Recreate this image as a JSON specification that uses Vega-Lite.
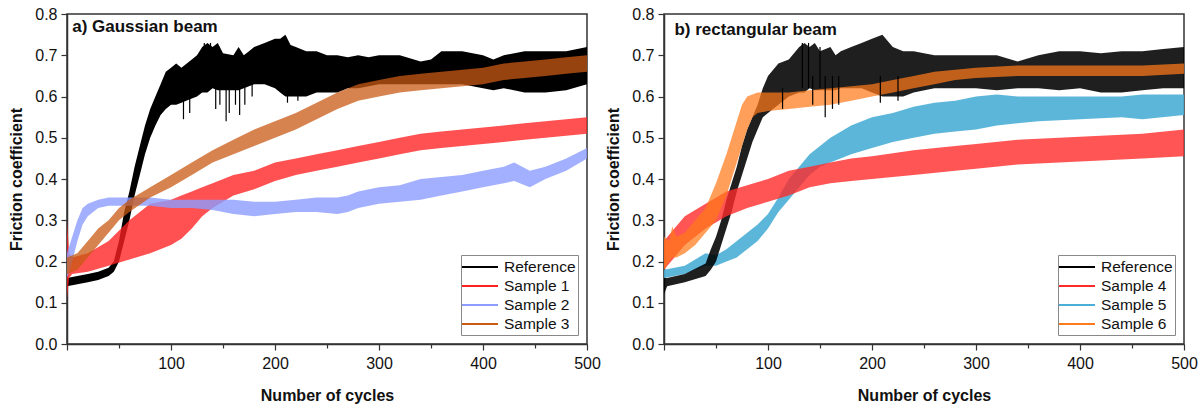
{
  "$schema": "https://vega.github.io/schema/vega-lite/v6.json",
  "padding": {"left": 8, "top": 5, "right": 4, "bottom": 4},
  "spacing": 3,
  "config": {
    "font": "Liberation Sans",
    "view": {"stroke": "#333333", "strokeWidth": 1.5},
    "axis": {
      "domainColor": "#333333", "domainWidth": 1.5, "tickColor": "#333333", "tickWidth": 1.2,
      "labelFont": "Liberation Sans", "labelFontSize": 16, "labelColor": "#111111",
      "titleFont": "Liberation Sans", "titleFontSize": 16, "titleFontWeight": "bold", "titleColor": "#111111",
      "grid": false, "labelPadding": 5
    },
    "legend": {
      "orient": "bottom-right", "offset": 9, "strokeColor": "#888888", "fillColor": "white",
      "padding": 2, "title": null, "labelFont": "Liberation Sans", "labelFontSize": 15.5, "labelColor": "#111111",
      "symbolType": "M-1.8,-0.1H1.8V0.1H-1.8Z", "symbolSize": 400, "symbolStrokeWidth": 0, "symbolOffset": 7, "labelOffset": 14, "rowPadding": 0, "symbolOpacity": 1
    }
  },
  "datasets": {
    "a": [
      {"s": "Reference", "c": 0, "lo": 0.14, "hi": 0.16},
      {"s": "Reference", "c": 10, "lo": 0.145, "hi": 0.165},
      {"s": "Reference", "c": 20, "lo": 0.15, "hi": 0.17},
      {"s": "Reference", "c": 30, "lo": 0.155, "hi": 0.175},
      {"s": "Reference", "c": 40, "lo": 0.165, "hi": 0.185},
      {"s": "Reference", "c": 45, "lo": 0.175, "hi": 0.2},
      {"s": "Reference", "c": 50, "lo": 0.2, "hi": 0.25},
      {"s": "Reference", "c": 55, "lo": 0.25, "hi": 0.32},
      {"s": "Reference", "c": 60, "lo": 0.3, "hi": 0.37},
      {"s": "Reference", "c": 65, "lo": 0.36, "hi": 0.43},
      {"s": "Reference", "c": 70, "lo": 0.41, "hi": 0.48},
      {"s": "Reference", "c": 75, "lo": 0.46, "hi": 0.53},
      {"s": "Reference", "c": 80, "lo": 0.5, "hi": 0.57},
      {"s": "Reference", "c": 85, "lo": 0.53, "hi": 0.6},
      {"s": "Reference", "c": 90, "lo": 0.555, "hi": 0.63},
      {"s": "Reference", "c": 95, "lo": 0.57, "hi": 0.66},
      {"s": "Reference", "c": 100, "lo": 0.58, "hi": 0.67},
      {"s": "Reference", "c": 105, "lo": 0.58, "hi": 0.68},
      {"s": "Reference", "c": 110, "lo": 0.585, "hi": 0.67},
      {"s": "Reference", "c": 120, "lo": 0.595, "hi": 0.69},
      {"s": "Reference", "c": 125, "lo": 0.6, "hi": 0.7},
      {"s": "Reference", "c": 130, "lo": 0.61, "hi": 0.72},
      {"s": "Reference", "c": 135, "lo": 0.61, "hi": 0.73},
      {"s": "Reference", "c": 140, "lo": 0.62, "hi": 0.72},
      {"s": "Reference", "c": 145, "lo": 0.615, "hi": 0.73},
      {"s": "Reference", "c": 150, "lo": 0.615, "hi": 0.705},
      {"s": "Reference", "c": 160, "lo": 0.615, "hi": 0.7},
      {"s": "Reference", "c": 165, "lo": 0.615, "hi": 0.72},
      {"s": "Reference", "c": 170, "lo": 0.62, "hi": 0.7},
      {"s": "Reference", "c": 175, "lo": 0.625, "hi": 0.71},
      {"s": "Reference", "c": 180, "lo": 0.63, "hi": 0.72},
      {"s": "Reference", "c": 190, "lo": 0.63, "hi": 0.73},
      {"s": "Reference", "c": 200, "lo": 0.62, "hi": 0.74},
      {"s": "Reference", "c": 205, "lo": 0.61, "hi": 0.74},
      {"s": "Reference", "c": 210, "lo": 0.6, "hi": 0.75},
      {"s": "Reference", "c": 215, "lo": 0.6, "hi": 0.725},
      {"s": "Reference", "c": 220, "lo": 0.6, "hi": 0.72},
      {"s": "Reference", "c": 230, "lo": 0.6, "hi": 0.71},
      {"s": "Reference", "c": 240, "lo": 0.61, "hi": 0.71},
      {"s": "Reference", "c": 250, "lo": 0.61, "hi": 0.7},
      {"s": "Reference", "c": 260, "lo": 0.61, "hi": 0.7},
      {"s": "Reference", "c": 270, "lo": 0.62, "hi": 0.695},
      {"s": "Reference", "c": 280, "lo": 0.62, "hi": 0.7},
      {"s": "Reference", "c": 290, "lo": 0.625, "hi": 0.695},
      {"s": "Reference", "c": 300, "lo": 0.63, "hi": 0.7},
      {"s": "Reference", "c": 320, "lo": 0.63, "hi": 0.7},
      {"s": "Reference", "c": 340, "lo": 0.63, "hi": 0.685},
      {"s": "Reference", "c": 350, "lo": 0.63, "hi": 0.69},
      {"s": "Reference", "c": 360, "lo": 0.63, "hi": 0.71},
      {"s": "Reference", "c": 380, "lo": 0.63, "hi": 0.71},
      {"s": "Reference", "c": 400, "lo": 0.62, "hi": 0.7},
      {"s": "Reference", "c": 410, "lo": 0.615, "hi": 0.69},
      {"s": "Reference", "c": 420, "lo": 0.62, "hi": 0.7},
      {"s": "Reference", "c": 440, "lo": 0.61, "hi": 0.71},
      {"s": "Reference", "c": 460, "lo": 0.61, "hi": 0.71},
      {"s": "Reference", "c": 480, "lo": 0.615, "hi": 0.71},
      {"s": "Reference", "c": 500, "lo": 0.63, "hi": 0.72},

      {"s": "Sample 1", "c": 0, "lo": 0.11, "hi": 0.3},
      {"s": "Sample 1", "c": 2, "lo": 0.16, "hi": 0.22},
      {"s": "Sample 1", "c": 5, "lo": 0.17, "hi": 0.21},
      {"s": "Sample 1", "c": 20, "lo": 0.175, "hi": 0.22},
      {"s": "Sample 1", "c": 40, "lo": 0.19, "hi": 0.25},
      {"s": "Sample 1", "c": 60, "lo": 0.205, "hi": 0.3},
      {"s": "Sample 1", "c": 80, "lo": 0.22, "hi": 0.34},
      {"s": "Sample 1", "c": 100, "lo": 0.24, "hi": 0.35},
      {"s": "Sample 1", "c": 110, "lo": 0.255, "hi": 0.36},
      {"s": "Sample 1", "c": 120, "lo": 0.28, "hi": 0.37},
      {"s": "Sample 1", "c": 130, "lo": 0.31, "hi": 0.38},
      {"s": "Sample 1", "c": 140, "lo": 0.33, "hi": 0.39},
      {"s": "Sample 1", "c": 160, "lo": 0.36, "hi": 0.41},
      {"s": "Sample 1", "c": 180, "lo": 0.375, "hi": 0.42},
      {"s": "Sample 1", "c": 200, "lo": 0.395, "hi": 0.44},
      {"s": "Sample 1", "c": 220, "lo": 0.41, "hi": 0.45},
      {"s": "Sample 1", "c": 240, "lo": 0.42, "hi": 0.46},
      {"s": "Sample 1", "c": 260, "lo": 0.43, "hi": 0.47},
      {"s": "Sample 1", "c": 280, "lo": 0.44, "hi": 0.48},
      {"s": "Sample 1", "c": 300, "lo": 0.45, "hi": 0.49},
      {"s": "Sample 1", "c": 320, "lo": 0.46, "hi": 0.5},
      {"s": "Sample 1", "c": 340, "lo": 0.47, "hi": 0.51},
      {"s": "Sample 1", "c": 360, "lo": 0.475, "hi": 0.515},
      {"s": "Sample 1", "c": 380, "lo": 0.48, "hi": 0.52},
      {"s": "Sample 1", "c": 400, "lo": 0.485, "hi": 0.525},
      {"s": "Sample 1", "c": 420, "lo": 0.49, "hi": 0.53},
      {"s": "Sample 1", "c": 440, "lo": 0.495, "hi": 0.535},
      {"s": "Sample 1", "c": 460, "lo": 0.5, "hi": 0.54},
      {"s": "Sample 1", "c": 480, "lo": 0.505, "hi": 0.545},
      {"s": "Sample 1", "c": 500, "lo": 0.51, "hi": 0.55},

      {"s": "Sample 2", "c": 0, "lo": 0.16, "hi": 0.22},
      {"s": "Sample 2", "c": 5, "lo": 0.2, "hi": 0.26},
      {"s": "Sample 2", "c": 10, "lo": 0.25, "hi": 0.3},
      {"s": "Sample 2", "c": 15, "lo": 0.29, "hi": 0.33},
      {"s": "Sample 2", "c": 20, "lo": 0.31, "hi": 0.34},
      {"s": "Sample 2", "c": 30, "lo": 0.33, "hi": 0.35},
      {"s": "Sample 2", "c": 40, "lo": 0.335, "hi": 0.355},
      {"s": "Sample 2", "c": 60, "lo": 0.335, "hi": 0.355},
      {"s": "Sample 2", "c": 80, "lo": 0.335, "hi": 0.355},
      {"s": "Sample 2", "c": 100, "lo": 0.33, "hi": 0.35},
      {"s": "Sample 2", "c": 120, "lo": 0.33, "hi": 0.35},
      {"s": "Sample 2", "c": 140, "lo": 0.325, "hi": 0.35},
      {"s": "Sample 2", "c": 160, "lo": 0.315, "hi": 0.35},
      {"s": "Sample 2", "c": 180, "lo": 0.31, "hi": 0.345},
      {"s": "Sample 2", "c": 200, "lo": 0.315, "hi": 0.345},
      {"s": "Sample 2", "c": 220, "lo": 0.32, "hi": 0.35},
      {"s": "Sample 2", "c": 240, "lo": 0.32, "hi": 0.355},
      {"s": "Sample 2", "c": 260, "lo": 0.315, "hi": 0.355},
      {"s": "Sample 2", "c": 270, "lo": 0.32, "hi": 0.36},
      {"s": "Sample 2", "c": 280, "lo": 0.33, "hi": 0.37},
      {"s": "Sample 2", "c": 300, "lo": 0.34, "hi": 0.38},
      {"s": "Sample 2", "c": 320, "lo": 0.345, "hi": 0.385},
      {"s": "Sample 2", "c": 340, "lo": 0.35, "hi": 0.4},
      {"s": "Sample 2", "c": 360, "lo": 0.36, "hi": 0.405},
      {"s": "Sample 2", "c": 380, "lo": 0.37, "hi": 0.41},
      {"s": "Sample 2", "c": 400, "lo": 0.38, "hi": 0.42},
      {"s": "Sample 2", "c": 420, "lo": 0.39, "hi": 0.43},
      {"s": "Sample 2", "c": 430, "lo": 0.395, "hi": 0.44},
      {"s": "Sample 2", "c": 445, "lo": 0.38, "hi": 0.42},
      {"s": "Sample 2", "c": 460, "lo": 0.4, "hi": 0.43},
      {"s": "Sample 2", "c": 480, "lo": 0.42, "hi": 0.45},
      {"s": "Sample 2", "c": 500, "lo": 0.45, "hi": 0.475},

      {"s": "Sample 3", "c": 0, "lo": 0.17, "hi": 0.21},
      {"s": "Sample 3", "c": 10, "lo": 0.18, "hi": 0.22},
      {"s": "Sample 3", "c": 20, "lo": 0.21, "hi": 0.25},
      {"s": "Sample 3", "c": 30, "lo": 0.24, "hi": 0.28},
      {"s": "Sample 3", "c": 40, "lo": 0.27, "hi": 0.3},
      {"s": "Sample 3", "c": 50, "lo": 0.3, "hi": 0.33},
      {"s": "Sample 3", "c": 60, "lo": 0.32, "hi": 0.35},
      {"s": "Sample 3", "c": 80, "lo": 0.355, "hi": 0.38},
      {"s": "Sample 3", "c": 100, "lo": 0.38, "hi": 0.41},
      {"s": "Sample 3", "c": 120, "lo": 0.41, "hi": 0.44},
      {"s": "Sample 3", "c": 140, "lo": 0.44, "hi": 0.47},
      {"s": "Sample 3", "c": 160, "lo": 0.46, "hi": 0.495},
      {"s": "Sample 3", "c": 180, "lo": 0.48, "hi": 0.52},
      {"s": "Sample 3", "c": 200, "lo": 0.5, "hi": 0.54},
      {"s": "Sample 3", "c": 220, "lo": 0.52, "hi": 0.56},
      {"s": "Sample 3", "c": 240, "lo": 0.545, "hi": 0.585},
      {"s": "Sample 3", "c": 260, "lo": 0.57, "hi": 0.61},
      {"s": "Sample 3", "c": 280, "lo": 0.59, "hi": 0.63},
      {"s": "Sample 3", "c": 300, "lo": 0.6, "hi": 0.64},
      {"s": "Sample 3", "c": 320, "lo": 0.61, "hi": 0.65},
      {"s": "Sample 3", "c": 340, "lo": 0.615, "hi": 0.655},
      {"s": "Sample 3", "c": 360, "lo": 0.62, "hi": 0.66},
      {"s": "Sample 3", "c": 380, "lo": 0.625, "hi": 0.665},
      {"s": "Sample 3", "c": 400, "lo": 0.63, "hi": 0.67},
      {"s": "Sample 3", "c": 420, "lo": 0.64, "hi": 0.68},
      {"s": "Sample 3", "c": 440, "lo": 0.645, "hi": 0.685},
      {"s": "Sample 3", "c": 460, "lo": 0.65, "hi": 0.69},
      {"s": "Sample 3", "c": 480, "lo": 0.655, "hi": 0.695},
      {"s": "Sample 3", "c": 500, "lo": 0.66, "hi": 0.7}
    ],
    "aspikes": [
      {"c": 112, "lo": 0.545, "hi": 0.62},
      {"c": 118, "lo": 0.56, "hi": 0.63},
      {"c": 132, "lo": 0.62, "hi": 0.73},
      {"c": 138, "lo": 0.62, "hi": 0.73},
      {"c": 143, "lo": 0.57, "hi": 0.65},
      {"c": 147, "lo": 0.58, "hi": 0.65},
      {"c": 153, "lo": 0.54, "hi": 0.65},
      {"c": 156, "lo": 0.56, "hi": 0.65},
      {"c": 162, "lo": 0.58, "hi": 0.65},
      {"c": 166, "lo": 0.555, "hi": 0.65},
      {"c": 171, "lo": 0.58, "hi": 0.65},
      {"c": 178, "lo": 0.6, "hi": 0.66},
      {"c": 212, "lo": 0.585, "hi": 0.65},
      {"c": 222, "lo": 0.59, "hi": 0.65}
    ],
    "b": [
      {"s": "Reference", "c": 0, "lo": 0.12, "hi": 0.16},
      {"s": "Reference", "c": 3, "lo": 0.14, "hi": 0.16},
      {"s": "Reference", "c": 20, "lo": 0.15, "hi": 0.17},
      {"s": "Reference", "c": 40, "lo": 0.165, "hi": 0.195},
      {"s": "Reference", "c": 45, "lo": 0.18, "hi": 0.23},
      {"s": "Reference", "c": 50, "lo": 0.2, "hi": 0.26},
      {"s": "Reference", "c": 55, "lo": 0.24, "hi": 0.3},
      {"s": "Reference", "c": 60, "lo": 0.28, "hi": 0.35},
      {"s": "Reference", "c": 65, "lo": 0.32, "hi": 0.39},
      {"s": "Reference", "c": 70, "lo": 0.37, "hi": 0.43},
      {"s": "Reference", "c": 75, "lo": 0.41, "hi": 0.48},
      {"s": "Reference", "c": 80, "lo": 0.45, "hi": 0.52},
      {"s": "Reference", "c": 85, "lo": 0.49, "hi": 0.55},
      {"s": "Reference", "c": 90, "lo": 0.52, "hi": 0.58},
      {"s": "Reference", "c": 95, "lo": 0.55, "hi": 0.62},
      {"s": "Reference", "c": 100, "lo": 0.56, "hi": 0.65},
      {"s": "Reference", "c": 110, "lo": 0.58, "hi": 0.68},
      {"s": "Reference", "c": 120, "lo": 0.6, "hi": 0.69},
      {"s": "Reference", "c": 130, "lo": 0.61, "hi": 0.72},
      {"s": "Reference", "c": 135, "lo": 0.61, "hi": 0.73},
      {"s": "Reference", "c": 140, "lo": 0.62, "hi": 0.72},
      {"s": "Reference", "c": 145, "lo": 0.615, "hi": 0.73},
      {"s": "Reference", "c": 150, "lo": 0.615, "hi": 0.71},
      {"s": "Reference", "c": 160, "lo": 0.615, "hi": 0.72},
      {"s": "Reference", "c": 165, "lo": 0.615, "hi": 0.7},
      {"s": "Reference", "c": 170, "lo": 0.62, "hi": 0.71},
      {"s": "Reference", "c": 180, "lo": 0.62, "hi": 0.72},
      {"s": "Reference", "c": 190, "lo": 0.62, "hi": 0.73},
      {"s": "Reference", "c": 200, "lo": 0.61, "hi": 0.74},
      {"s": "Reference", "c": 210, "lo": 0.6, "hi": 0.75},
      {"s": "Reference", "c": 220, "lo": 0.6, "hi": 0.72},
      {"s": "Reference", "c": 230, "lo": 0.6, "hi": 0.71},
      {"s": "Reference", "c": 240, "lo": 0.61, "hi": 0.71},
      {"s": "Reference", "c": 260, "lo": 0.62, "hi": 0.7},
      {"s": "Reference", "c": 280, "lo": 0.62, "hi": 0.7},
      {"s": "Reference", "c": 300, "lo": 0.62, "hi": 0.7},
      {"s": "Reference", "c": 320, "lo": 0.615, "hi": 0.7},
      {"s": "Reference", "c": 340, "lo": 0.62, "hi": 0.685},
      {"s": "Reference", "c": 360, "lo": 0.62, "hi": 0.7},
      {"s": "Reference", "c": 380, "lo": 0.615, "hi": 0.71},
      {"s": "Reference", "c": 400, "lo": 0.62, "hi": 0.71},
      {"s": "Reference", "c": 420, "lo": 0.61, "hi": 0.705},
      {"s": "Reference", "c": 440, "lo": 0.61, "hi": 0.71},
      {"s": "Reference", "c": 460, "lo": 0.615, "hi": 0.71},
      {"s": "Reference", "c": 480, "lo": 0.62, "hi": 0.715},
      {"s": "Reference", "c": 500, "lo": 0.62, "hi": 0.72},

      {"s": "Sample 4", "c": 0, "lo": 0.18, "hi": 0.25},
      {"s": "Sample 4", "c": 10, "lo": 0.21, "hi": 0.28},
      {"s": "Sample 4", "c": 20, "lo": 0.24, "hi": 0.31},
      {"s": "Sample 4", "c": 40, "lo": 0.28, "hi": 0.34},
      {"s": "Sample 4", "c": 60, "lo": 0.31, "hi": 0.37},
      {"s": "Sample 4", "c": 80, "lo": 0.33, "hi": 0.385},
      {"s": "Sample 4", "c": 100, "lo": 0.345, "hi": 0.4},
      {"s": "Sample 4", "c": 120, "lo": 0.36, "hi": 0.42},
      {"s": "Sample 4", "c": 140, "lo": 0.38, "hi": 0.43},
      {"s": "Sample 4", "c": 160, "lo": 0.39, "hi": 0.44},
      {"s": "Sample 4", "c": 180, "lo": 0.395, "hi": 0.45},
      {"s": "Sample 4", "c": 200, "lo": 0.4, "hi": 0.455},
      {"s": "Sample 4", "c": 240, "lo": 0.41, "hi": 0.47},
      {"s": "Sample 4", "c": 280, "lo": 0.42, "hi": 0.48},
      {"s": "Sample 4", "c": 300, "lo": 0.425, "hi": 0.485},
      {"s": "Sample 4", "c": 340, "lo": 0.435, "hi": 0.495},
      {"s": "Sample 4", "c": 380, "lo": 0.44, "hi": 0.5},
      {"s": "Sample 4", "c": 420, "lo": 0.445, "hi": 0.505},
      {"s": "Sample 4", "c": 460, "lo": 0.45, "hi": 0.51},
      {"s": "Sample 4", "c": 500, "lo": 0.455, "hi": 0.52},

      {"s": "Sample 5", "c": 0, "lo": 0.16, "hi": 0.18},
      {"s": "Sample 5", "c": 20, "lo": 0.17, "hi": 0.19},
      {"s": "Sample 5", "c": 40, "lo": 0.19, "hi": 0.22},
      {"s": "Sample 5", "c": 50, "lo": 0.19, "hi": 0.215},
      {"s": "Sample 5", "c": 60, "lo": 0.2, "hi": 0.23},
      {"s": "Sample 5", "c": 70, "lo": 0.21, "hi": 0.25},
      {"s": "Sample 5", "c": 80, "lo": 0.23, "hi": 0.27},
      {"s": "Sample 5", "c": 90, "lo": 0.25, "hi": 0.29},
      {"s": "Sample 5", "c": 100, "lo": 0.28, "hi": 0.315},
      {"s": "Sample 5", "c": 110, "lo": 0.32, "hi": 0.355},
      {"s": "Sample 5", "c": 120, "lo": 0.35, "hi": 0.4},
      {"s": "Sample 5", "c": 130, "lo": 0.38, "hi": 0.43},
      {"s": "Sample 5", "c": 140, "lo": 0.41, "hi": 0.46},
      {"s": "Sample 5", "c": 150, "lo": 0.43, "hi": 0.48},
      {"s": "Sample 5", "c": 160, "lo": 0.44, "hi": 0.5},
      {"s": "Sample 5", "c": 180, "lo": 0.46, "hi": 0.53},
      {"s": "Sample 5", "c": 200, "lo": 0.475, "hi": 0.55},
      {"s": "Sample 5", "c": 220, "lo": 0.49, "hi": 0.56},
      {"s": "Sample 5", "c": 240, "lo": 0.5, "hi": 0.575},
      {"s": "Sample 5", "c": 260, "lo": 0.51, "hi": 0.585},
      {"s": "Sample 5", "c": 280, "lo": 0.515, "hi": 0.59},
      {"s": "Sample 5", "c": 300, "lo": 0.52, "hi": 0.6},
      {"s": "Sample 5", "c": 320, "lo": 0.53, "hi": 0.605},
      {"s": "Sample 5", "c": 340, "lo": 0.535, "hi": 0.6},
      {"s": "Sample 5", "c": 360, "lo": 0.54, "hi": 0.6},
      {"s": "Sample 5", "c": 400, "lo": 0.545, "hi": 0.6},
      {"s": "Sample 5", "c": 440, "lo": 0.55, "hi": 0.6},
      {"s": "Sample 5", "c": 460, "lo": 0.545, "hi": 0.605},
      {"s": "Sample 5", "c": 500, "lo": 0.555, "hi": 0.605},

      {"s": "Sample 6", "c": 0, "lo": 0.18, "hi": 0.26},
      {"s": "Sample 6", "c": 5, "lo": 0.2, "hi": 0.25},
      {"s": "Sample 6", "c": 8, "lo": 0.21, "hi": 0.285},
      {"s": "Sample 6", "c": 12, "lo": 0.21, "hi": 0.26},
      {"s": "Sample 6", "c": 20, "lo": 0.22, "hi": 0.27},
      {"s": "Sample 6", "c": 30, "lo": 0.24, "hi": 0.3},
      {"s": "Sample 6", "c": 40, "lo": 0.27, "hi": 0.33},
      {"s": "Sample 6", "c": 50, "lo": 0.3, "hi": 0.39},
      {"s": "Sample 6", "c": 60, "lo": 0.36, "hi": 0.46},
      {"s": "Sample 6", "c": 65, "lo": 0.4, "hi": 0.5},
      {"s": "Sample 6", "c": 70, "lo": 0.44, "hi": 0.54},
      {"s": "Sample 6", "c": 75, "lo": 0.48, "hi": 0.58},
      {"s": "Sample 6", "c": 80, "lo": 0.52, "hi": 0.6},
      {"s": "Sample 6", "c": 85, "lo": 0.55, "hi": 0.605},
      {"s": "Sample 6", "c": 90, "lo": 0.56, "hi": 0.61},
      {"s": "Sample 6", "c": 100, "lo": 0.565, "hi": 0.61},
      {"s": "Sample 6", "c": 120, "lo": 0.57, "hi": 0.61},
      {"s": "Sample 6", "c": 140, "lo": 0.575, "hi": 0.615},
      {"s": "Sample 6", "c": 160, "lo": 0.58, "hi": 0.62},
      {"s": "Sample 6", "c": 180, "lo": 0.59, "hi": 0.625},
      {"s": "Sample 6", "c": 200, "lo": 0.6, "hi": 0.63},
      {"s": "Sample 6", "c": 220, "lo": 0.61, "hi": 0.64},
      {"s": "Sample 6", "c": 240, "lo": 0.62, "hi": 0.65},
      {"s": "Sample 6", "c": 260, "lo": 0.63, "hi": 0.66},
      {"s": "Sample 6", "c": 280, "lo": 0.64, "hi": 0.665},
      {"s": "Sample 6", "c": 300, "lo": 0.645, "hi": 0.67},
      {"s": "Sample 6", "c": 340, "lo": 0.65, "hi": 0.675},
      {"s": "Sample 6", "c": 400, "lo": 0.65, "hi": 0.675},
      {"s": "Sample 6", "c": 460, "lo": 0.65, "hi": 0.675},
      {"s": "Sample 6", "c": 500, "lo": 0.655, "hi": 0.68}
    ],
    "bspikes": [
      {"c": 114, "lo": 0.57, "hi": 0.62},
      {"c": 133, "lo": 0.62, "hi": 0.73},
      {"c": 139, "lo": 0.62, "hi": 0.73},
      {"c": 143, "lo": 0.58, "hi": 0.65},
      {"c": 150, "lo": 0.62, "hi": 0.72},
      {"c": 155, "lo": 0.55, "hi": 0.65},
      {"c": 162, "lo": 0.57, "hi": 0.65},
      {"c": 168, "lo": 0.58, "hi": 0.65},
      {"c": 208, "lo": 0.585, "hi": 0.65},
      {"c": 225, "lo": 0.59, "hi": 0.65}
    ]
  },
  "resolve": {"scale": {"color": "independent"}, "legend": {"color": "independent"}},
  "hconcat": [
    {
      "width": 520,
      "height": 330,
      "layer": [
        {
          "data": {"name": "a"},
          "encoding": {
            "x": {"field": "c", "type": "quantitative", "title": "Number of cycles",
              "scale": {"domain": [0, 500], "nice": false},
              "axis": {"values": [0, 50, 100, 150, 200, 250, 300, 350, 400, 450, 500], "labelExpr": "datum.value % 100 == 0 && datum.value > 0 ? datum.value : ''", "tickSize": {"condition": {"test": "datum.value % 100 == 0", "value": 6}, "value": 4}, "labelPadding": 5, "titlePadding": 16, "labelFlush": false}},
            "y": {"field": "lo", "type": "quantitative", "title": "Friction coefficient",
              "scale": {"domain": [0, 0.8], "nice": false},
              "axis": {"values": [0, 0.05, 0.1, 0.15, 0.2, 0.25, 0.3, 0.35, 0.4, 0.45, 0.5, 0.55, 0.6, 0.65, 0.7, 0.75, 0.8], "labelExpr": "round(datum.value*20) % 2 == 0 ? format(datum.value, '.1f') : ''", "tickSize": {"condition": {"test": "round(datum.value*20) % 2 == 0", "value": 6}, "value": 4}, "labelPadding": 4, "titlePadding": 10}},
            "y2": {"field": "hi"},
            "color": {"field": "s", "type": "nominal",
              "scale": {"domain": ["Reference", "Sample 1", "Sample 2", "Sample 3"], "range": ["#000000", "#ff2020", "#8c9cff", "#c85a14"]}}
          },
          "layer": [
            {"transform": [{"filter": "datum.s == 'Reference'"}], "mark": {"type": "area", "opacity": 1}},
            {"transform": [{"filter": "datum.s == 'Sample 1'"}], "mark": {"type": "area", "opacity": 0.78}},
            {"transform": [{"filter": "datum.s == 'Sample 2'"}], "mark": {"type": "area", "opacity": 0.8}},
            {"transform": [{"filter": "datum.s == 'Sample 3'"}], "mark": {"type": "area", "opacity": 0.75}}
          ]
        },
        {
          "data": {"name": "aspikes"},
          "mark": {"type": "rule", "color": "#000000", "strokeWidth": 1.2},
          "encoding": {"x": {"field": "c", "type": "quantitative"}, "y": {"field": "lo", "type": "quantitative"}, "y2": {"field": "hi"}}
        },
        {
          "data": {"values": [{"t": "a) Gaussian beam", "x": 5, "y": 0.768}]},
          "mark": {"type": "text", "align": "left", "baseline": "middle", "fontSize": 17, "fontWeight": "bold", "font": "Liberation Sans", "color": "#111111"},
          "encoding": {"x": {"field": "x", "type": "quantitative"}, "y": {"field": "y", "type": "quantitative"}, "text": {"field": "t"}}
        }
      ]
    },
    {
      "width": 520,
      "height": 330,
      "layer": [
        {
          "data": {"name": "b"},
          "encoding": {
            "x": {"field": "c", "type": "quantitative", "title": "Number of cycles",
              "scale": {"domain": [0, 500], "nice": false},
              "axis": {"values": [0, 50, 100, 150, 200, 250, 300, 350, 400, 450, 500], "labelExpr": "datum.value % 100 == 0 && datum.value > 0 ? datum.value : ''", "tickSize": {"condition": {"test": "datum.value % 100 == 0", "value": 6}, "value": 4}, "labelPadding": 5, "titlePadding": 16, "labelFlush": false}},
            "y": {"field": "lo", "type": "quantitative", "title": "Friction coefficient",
              "scale": {"domain": [0, 0.8], "nice": false},
              "axis": {"values": [0, 0.05, 0.1, 0.15, 0.2, 0.25, 0.3, 0.35, 0.4, 0.45, 0.5, 0.55, 0.6, 0.65, 0.7, 0.75, 0.8], "labelExpr": "round(datum.value*20) % 2 == 0 ? format(datum.value, '.1f') : ''", "tickSize": {"condition": {"test": "round(datum.value*20) % 2 == 0", "value": 6}, "value": 4}, "labelPadding": 4, "titlePadding": 10}},
            "y2": {"field": "hi"},
            "color": {"field": "s", "type": "nominal",
              "scale": {"domain": ["Reference", "Sample 4", "Sample 5", "Sample 6"], "range": ["#000000", "#ff2a2a", "#4aaed6", "#ff7a1a"]}}
          },
          "layer": [
            {"transform": [{"filter": "datum.s == 'Sample 5'"}], "mark": {"type": "area", "opacity": 0.9}},
            {"transform": [{"filter": "datum.s == 'Reference'"}], "mark": {"type": "area", "opacity": 0.88}},
            {"transform": [{"filter": "datum.s == 'Sample 4'"}], "mark": {"type": "area", "opacity": 0.8}},
            {"transform": [{"filter": "datum.s == 'Sample 6'"}], "mark": {"type": "area", "opacity": 0.72}}
          ]
        },
        {
          "data": {"name": "bspikes"},
          "mark": {"type": "rule", "color": "#000000", "strokeWidth": 1.2},
          "encoding": {"x": {"field": "c", "type": "quantitative"}, "y": {"field": "lo", "type": "quantitative"}, "y2": {"field": "hi"}}
        },
        {
          "data": {"values": [{"t": "b) rectangular beam", "x": 10, "y": 0.762}]},
          "mark": {"type": "text", "align": "left", "baseline": "middle", "fontSize": 17, "fontWeight": "bold", "font": "Liberation Sans", "color": "#111111"},
          "encoding": {"x": {"field": "x", "type": "quantitative"}, "y": {"field": "y", "type": "quantitative"}, "text": {"field": "t"}}
        }
      ]
    }
  ]
}
